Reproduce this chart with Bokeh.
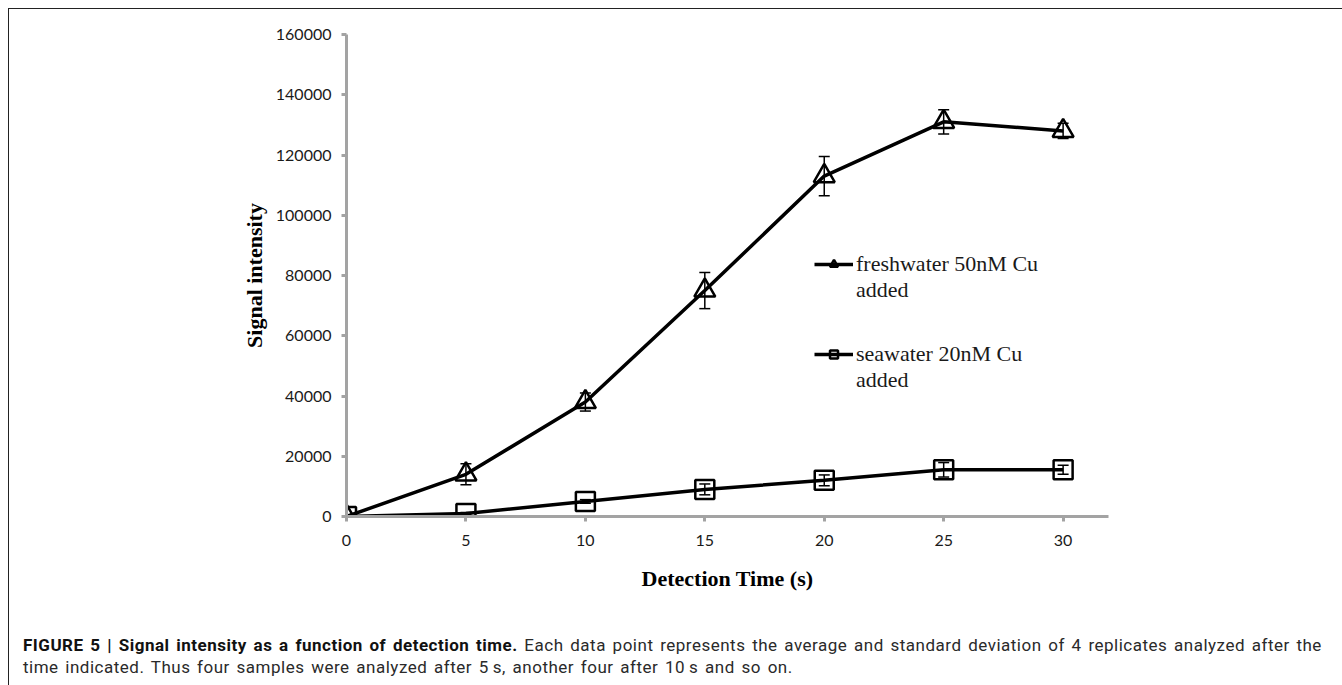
from bokeh.plotting import figure
from bokeh.models import (ColumnDataSource, Whisker, TeeHead, Legend, LegendItem,
                          FixedTicker, NumeralTickFormatter, Div, Range1d)
from bokeh.layouts import column
from bokeh.embed import file_html
from bokeh.resources import INLINE

# ---- data ----
time_s = [0, 5, 10, 15, 20, 25, 30]
fresh_mean = [0, 14000, 38000, 75000, 113000, 131000, 128000]
fresh_sd = [0, 3500, 3000, 6000, 6500, 4000, 2500]
sea_mean = [0, 1000, 5000, 9000, 12000, 15500, 15500]
sea_sd = [0, 300, 600, 1800, 1800, 2400, 1500]
x_ticks = [0, 5, 10, 15, 20, 25, 30]
y_ticks = [0, 20000, 40000, 60000, 80000, 100000, 120000, 140000, 160000]
fresh_label = "freshwater 50nM Cu"
sea_label = "seawater 20nM Cu"
label_cont = "added"
x_title = "Detection Time (s)"
y_title = "Signal intensity"

fresh_src = ColumnDataSource(dict(
    x=time_s, y=fresh_mean,
    up=[m + s for m, s in zip(fresh_mean, fresh_sd)],
    lo=[m - s for m, s in zip(fresh_mean, fresh_sd)]))
sea_src = ColumnDataSource(dict(
    x=time_s, y=sea_mean,
    up=[m + s for m, s in zip(sea_mean, sea_sd)],
    lo=[m - s for m, s in zip(sea_mean, sea_sd)]))

W = 1324
H = 600
p = figure(width=W, height=H, output_backend="svg", toolbar_location=None,
           x_range=Range1d(0, 31.9), y_range=Range1d(0, 160000),
           min_border_left=337, min_border_right=225, min_border_top=25,
           min_border_bottom=93)
p.outline_line_color = None
p.grid.visible = False
p.background_fill_color = "white"
p.border_fill_color = "white"

axis_col = "#a3a3a3"
for ax in (p.xaxis[0], p.yaxis[0]):
    ax.axis_line_color = axis_col
    ax.axis_line_width = 3
    ax.major_tick_line_color = axis_col
    ax.major_tick_line_width = 3
    ax.major_tick_out = 5
    ax.major_tick_in = 0
    ax.minor_tick_line_color = None
    ax.major_label_text_font = "Lato"
    ax.major_label_text_font_size = "16px"
    ax.major_label_text_color = "#1a1a1a"
    ax.axis_label_text_font = "Liberation Serif"
    ax.axis_label_text_font_style = "bold"
    ax.axis_label_text_font_size = "22px"
    ax.axis_label_text_color = "black"
p.yaxis.major_label_standoff = 10
p.xaxis.major_label_standoff = 13

p.xaxis.ticker = FixedTicker(ticks=x_ticks)
p.yaxis.ticker = FixedTicker(ticks=y_ticks)
p.yaxis.formatter = NumeralTickFormatter(format="0")
p.xaxis.axis_label = x_title
p.xaxis.axis_label_standoff = 17
p.yaxis.axis_label = y_title
p.yaxis.axis_label_standoff = 6

# series
fl = p.line("x", "y", source=fresh_src, line_color="black", line_width=3.5)
sl = p.line("x", "y", source=sea_src, line_color="black", line_width=3.5)
fm = p.scatter("x", "y", source=fresh_src, marker="triangle", size=21,
               line_color="black", line_width=2.5, fill_alpha=0)
sm = p.scatter("x", "y", source=sea_src, marker="square", size=19,
               line_color="black", line_width=2.5, fill_alpha=0)

for src in (fresh_src, sea_src):
    w = Whisker(source=src, base="x", upper="up", lower="lo", dimension="height",
                line_color="black", line_width=1.5,
                upper_head=TeeHead(size=11, line_color="black", line_width=1.5),
                lower_head=TeeHead(size=11, line_color="black", line_width=1.5))
    p.add_layout(w)

leg_style = dict(padding=0, margin=0, spacing=0, glyph_width=39, glyph_height=20,
                 label_standoff=3, label_text_font="Liberation Serif",
                 label_text_font_size="22px", label_text_color="#1a1a1a",
                 label_text_line_height=1.2, label_height=26,
                 background_fill_alpha=0, border_line_color=None)
leg1 = Legend(items=[LegendItem(label=fresh_label, renderers=[fl, fm]),
                     LegendItem(label=label_cont, renderers=[])],
              location=(468, 213), **leg_style)
leg2 = Legend(items=[LegendItem(label=sea_label, renderers=[sl, sm]),
                     LegendItem(label=label_cont, renderers=[])],
              location=(468, 123), **leg_style)
p.add_layout(leg1)
p.add_layout(leg2)

caption = Div(width=W, height=76, text=(
    '<div style="padding:20px 0 0 9px; font-family:Roboto, sans-serif; font-size:17px; '
    'letter-spacing:0.5px; word-spacing:2px; '
    'line-height:22px; color:#2a2a2a; white-space:nowrap;">'
    '<b style="color:#111">FIGURE 5 | Signal intensity as a function of detection time.</b> '
    'Each data point represents the average and standard deviation of 4 replicates analyzed after the<br>'
    'time indicated. Thus four samples were analyzed after 5&#8201;s, another four after 10&#8201;s and so on.'
    '</div>'))

layout = column(p, caption, spacing=0,
                styles={"margin-left": "8px", "margin-top": "8px",
                        "border-left": "1px solid #222", "border-top": "1px solid #222",
                        "border-right": "1px solid #222", "background": "white"})

open("out.html", "w").write(file_html(layout, INLINE))
